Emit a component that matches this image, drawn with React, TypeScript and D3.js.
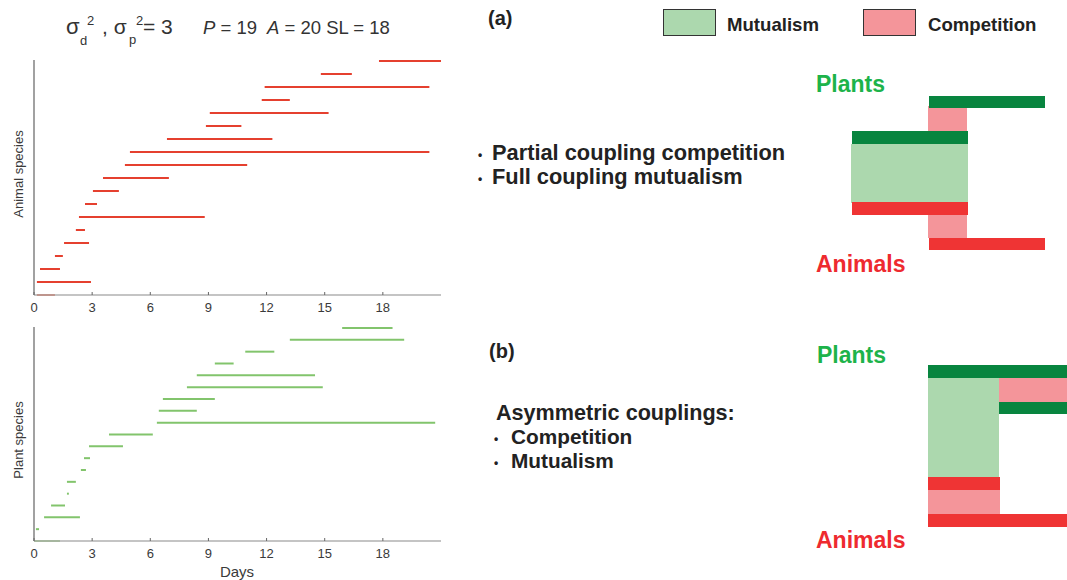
import React from "react";
import * as d3 from "d3";

const xTicks = [0, 3, 6, 9, 12, 15, 18];
// animal species phenology intervals (days), bottom row first
const animalStart = [0.15, 0.15, 0.31, 1.08, 1.55, 2.16, 2.32, 2.63, 3.04, 3.56, 4.69, 4.95, 6.86, 8.87, 9.07, 11.75, 11.9, 14.8, 17.8];
const animalEnd = [1.08, 2.94, 1.34, 1.49, 2.84, 2.63, 8.81, 3.25, 4.38, 6.96, 11.0, 20.4, 12.3, 10.7, 15.2, 13.2, 20.4, 16.4, 21.0];
// plant species phenology intervals (days), bottom row first
const plantStart = [0.0, 0.1, 0.52, 0.88, 1.7, 1.7, 2.42, 2.58, 2.84, 3.87, 6.34, 6.44, 6.65, 7.89, 8.4, 9.33, 10.9, 13.2, 15.9];
const plantEnd = [1.34, 0.26, 2.37, 1.6, 1.8, 2.16, 2.68, 2.89, 4.59, 6.13, 20.7, 8.4, 9.33, 14.9, 14.5, 10.3, 12.4, 19.1, 18.5];

const FONT = "'Liberation Sans', Arial, Helvetica, sans-serif";
const DARKG = "#08853f";
const LIGHTG = "#acd8ae";
const RED = "#ef3434";
const PINK = "#f4959a";

function Panel({ starts, ends, top, bottom, color, faint, ylabel, labelY, showDays }: any) {
  const x = d3.scaleLinear().domain([0, 21]).range([34, 441]);
  const n = starts.length;
  const y = d3.scaleLinear().domain([1, n]).range([bottom, top + 1]);
  return (
    <g>
      {starts.map((s: number, i: number) => (
        <line key={i} x1={x(s)} x2={x(ends[i])} y1={y(i + 1)} y2={y(i + 1)}
          stroke={i === 0 ? faint : color} strokeWidth={2} />
      ))}
      <line x1={x(0)} x2={x(0)} y1={top} y2={bottom} stroke="#8a8a8a" strokeWidth={1.6} />
      <line x1={x(0)} x2={x(21)} y1={bottom} y2={bottom} stroke="#8a8a8a" strokeWidth={1.2} />
      {xTicks.map((t) => (
        <g key={t}>
          <line x1={x(t)} x2={x(t)} y1={bottom} y2={bottom - 3} stroke="#666" strokeWidth={1} />
          <text x={x(t)} y={bottom + 17} textAnchor="middle" fontSize={13} fill="#3a3a3a" fontFamily={FONT}>{t}</text>
        </g>
      ))}
      <text transform={`translate(23,${labelY}) rotate(-90)`} textAnchor="middle"
        fontSize={13} fill="#3a3a3a" fontFamily={FONT}>{ylabel}</text>
      {showDays && (
        <text x={237} y={577} textAnchor="middle" fontSize={15} fill="#3a3a3a" fontFamily={FONT}>Days</text>
      )}
    </g>
  );
}

export default function App() {
  return (
    <svg width={1067} height={580} style={{ position: "absolute", left: 0, top: 0, background: "#fff" }}>
      <rect width={1067} height={580} fill="#fff" />
      {/* title */}
      <text y={34} fill="#333" fontFamily={FONT}>
        <tspan x={66} fontSize={22}>σ</tspan>
        <tspan x={80} y={45} fontSize={13}>d</tspan>
        <tspan x={87} y={25} fontSize={13}>2</tspan>
        <tspan x={102} y={34} fontSize={21}>, σ</tspan>
        <tspan x={129} y={44} fontSize={13}>p</tspan>
        <tspan x={136} y={25} fontSize={13}>2</tspan>
        <tspan x={143} y={34} fontSize={21}>= 3</tspan>
      </text>
      <text y={34} fill="#333" fontFamily={FONT} fontSize={18.5}>
        <tspan x={203} fontStyle="italic">P</tspan>
        <tspan> = 19</tspan>
        <tspan x={267} fontStyle="italic">A</tspan>
        <tspan> = 20 SL = 18</tspan>
      </text>

      <Panel starts={animalStart} ends={animalEnd} top={60} bottom={295} color="#e5402f" faint="#f3a090"
        ylabel="Animal species" labelY={174} />
      <Panel starts={plantStart} ends={plantEnd} top={327} bottom={541} color="#82c46c" faint="#c3e3b5"
        ylabel="Plant species" labelY={440} showDays />

      {/* legend */}
      <text x={488} y={25} fontSize={20} fontWeight="bold" fill="#222" fontFamily={FONT}>(a)</text>
      <rect x={663.5} y={9.5} width={52} height={26} fill={LIGHTG} stroke="#333" strokeWidth={1} />
      <text x={727} y={31} fontSize={18.6} fontWeight="bold" fill="#222" fontFamily={FONT}>Mutualism</text>
      <rect x={863.5} y={9.5} width={52} height={26} fill={PINK} stroke="#333" strokeWidth={1} />
      <text x={928} y={31} fontSize={18.6} fontWeight="bold" fill="#222" fontFamily={FONT}>Competition</text>

      {/* (a) text */}
      <text x={478} y={159} fontSize={12} fontWeight="bold" fill="#222" fontFamily={FONT}>•</text>
      <text x={492} y={160} fontSize={21.8} fontWeight="bold" fill="#222" fontFamily={FONT}>Partial coupling competition</text>
      <text x={478} y={183} fontSize={12} fontWeight="bold" fill="#222" fontFamily={FONT}>•</text>
      <text x={492} y={184} fontSize={21.8} fontWeight="bold" fill="#222" fontFamily={FONT}>Full coupling mutualism</text>

      {/* (a) diagram */}
      <text x={816} y={92} fontSize={23} fontWeight="bold" fill="#1db34a" fontFamily={FONT}>Plants</text>
      <rect x={928} y={106} width={39} height={26} fill={PINK} />
      <rect x={929} y={96} width={116} height={12} fill={DARKG} />
      <rect x={851} y={144} width={117} height={59} fill={LIGHTG} />
      <rect x={852} y={131} width={116} height={13} fill={DARKG} />
      <rect x={928} y={214} width={39} height={24} fill={PINK} />
      <rect x={852} y={202} width={116} height={13} fill={RED} />
      <rect x={929} y={238} width={116} height={12} fill={RED} />
      <text x={816} y={272} fontSize={23} fontWeight="bold" fill="#ee2a2f" fontFamily={FONT}>Animals</text>

      {/* (b) text */}
      <text x={489} y={358} fontSize={20} fontWeight="bold" fill="#222" fontFamily={FONT}>(b)</text>
      <text x={496} y={420} fontSize={21.6} fontWeight="bold" fill="#222" fontFamily={FONT}>Asymmetric couplings:</text>
      <text x={494} y={443} fontSize={12} fontWeight="bold" fill="#222" fontFamily={FONT}>•</text>
      <text x={511} y={444} fontSize={20.8} fontWeight="bold" fill="#222" fontFamily={FONT}>Competition</text>
      <text x={494} y={467} fontSize={12} fontWeight="bold" fill="#222" fontFamily={FONT}>•</text>
      <text x={511} y={468} fontSize={20.8} fontWeight="bold" fill="#222" fontFamily={FONT}>Mutualism</text>

      {/* (b) diagram */}
      <text x={817} y={363} fontSize={23} fontWeight="bold" fill="#1db34a" fontFamily={FONT}>Plants</text>
      <rect x={928} y={365} width={139} height={13} fill={DARKG} />
      <rect x={928} y={378} width={71} height={99} fill={LIGHTG} />
      <rect x={999} y={378} width={68} height={24} fill={PINK} />
      <rect x={999} y={402} width={68} height={12} fill={DARKG} />
      <rect x={928} y={477} width={72} height={13} fill={RED} />
      <rect x={928} y={490} width={72} height={24} fill={PINK} />
      <rect x={928} y={514} width={139} height={13} fill={RED} />
      <text x={816} y={548} fontSize={23} fontWeight="bold" fill="#ee2a2f" fontFamily={FONT}>Animals</text>
    </svg>
  );
}
